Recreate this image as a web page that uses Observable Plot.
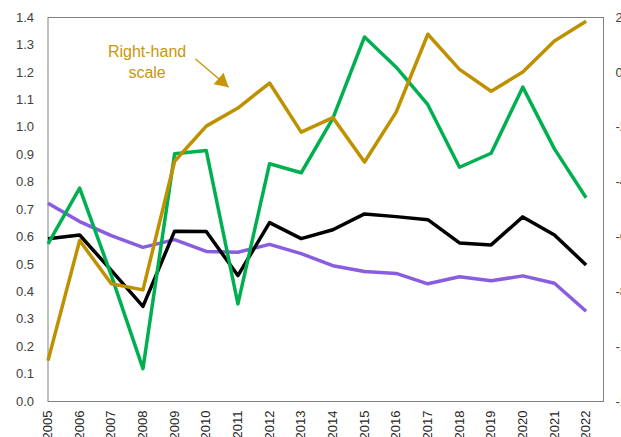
<!DOCTYPE html>
<html>
<head>
<meta charset="utf-8">
<script src="https://cdn.jsdelivr.net/npm/d3@7"></script>
<script src="https://cdn.jsdelivr.net/npm/@observablehq/plot@0.6"></script>
<style>
  html, body { margin: 0; padding: 0; background: #fff; overflow: hidden; }
  #chart svg { display: block; font-family: "Liberation Sans", Arial, sans-serif; }
</style>
</head>
<body>
<div id="chart"></div>
<script>
// Years on the category axis
const years = [2005, 2006, 2007, 2008, 2009, 2010, 2011, 2012, 2013, 2014,
               2015, 2016, 2017, 2018, 2019, 2020, 2021, 2022];

// Left-hand scale series
const purpleSeries = [0.723, 0.656, 0.605, 0.562, 0.590, 0.547, 0.544, 0.573, 0.539,
                      0.495, 0.474, 0.467, 0.429, 0.455, 0.440, 0.458, 0.431, 0.329];
const blackSeries  = [0.593, 0.607, 0.478, 0.347, 0.621, 0.620, 0.459, 0.652, 0.594,
                      0.626, 0.684, 0.674, 0.663, 0.578, 0.571, 0.673, 0.607, 0.498];
const greenSeries  = [0.575, 0.778, 0.460, 0.120, 0.903, 0.915, 0.356, 0.867, 0.834,
                      1.032, 1.329, 1.219, 1.082, 0.854, 0.905, 1.146, 0.921, 0.743];

// Right-hand scale series
const goldSeries   = [-10.51, -6.13, -7.71, -7.93, -3.24, -1.96, -1.30, -0.39, -2.18,
                      -1.65, -3.27, -1.45, 1.39, 0.11, -0.69, 0.01, 1.14, 1.86];

// Tick values of both value axes
const leftTicks  = [0, 0.1, 0.2, 0.3, 0.4, 0.5, 0.6, 0.7, 0.8, 0.9, 1.0, 1.1, 1.2, 1.3, 1.4];
const rightTicks = [-12, -10, -8, -6, -4, -2, 0, 2];

// Annotation pointing at the right-hand series
const noteText  = [{year: 2008.13, value: 1.243, text: "Right-hand\nscale"}];
const noteArrow = [{x1: 2009.66, y1: 1.249, x2: 2010.71, y2: 1.146}];

// The right-hand scale maps linearly onto the left one: -12 ↔ 0.0, 2 ↔ 1.4
const rightToLeft = (r) => (r + 12) / 10;
const leftToRight = (v) => Math.round(v * 10 - 12);

const COLORS = {purple: "#8a5ce0", black: "#000000", green: "#00b050", gold: "#bf9000"};

const rows = [];
const addSeries = (name, values, toLeft = (v) => v) =>
  values.forEach((v, i) => rows.push({series: name, year: years[i], value: toLeft(v)}));
addSeries("purple", purpleSeries);
addSeries("black", blackSeries);
addSeries("green", greenSeries);
addSeries("gold", goldSeries, rightToLeft);

const seriesOrder = ["purple", "black", "green", "gold"];

const chart = Plot.plot({
  width: 621,
  height: 437,
  marginLeft: 47.5,
  marginRight: 18,
  marginTop: 17,
  marginBottom: 36,
  style: {background: "#fff", fontFamily: "'Liberation Sans', Arial, sans-serif"},
  x: {type: "linear", domain: [2005, 2022.55]},
  y: {domain: [0, 1.4]},
  marks: [
    Plot.frame({stroke: "#808080", strokeWidth: 1}),
    Plot.axisY({
      ticks: leftTicks, tickFormat: d3.format(".1f"), tickSize: 0, tickPadding: 14,
      fontSize: 13, color: "#404040", label: null
    }),
    Plot.axisY({
      anchor: "right", ticks: rightTicks.map(rightToLeft), tickFormat: (v) => String(leftToRight(v)),
      tickSize: 0, tickPadding: 12, fontSize: 13, color: "#404040", label: null, textAnchor: "start"
    }),
    Plot.axisX({
      ticks: years, tickFormat: (d) => String(d), tickRotate: -90, tickSize: 0, tickPadding: 9,
      fontSize: 13, color: "#262626", label: null
    }),
    ...seriesOrder.map((name) =>
      Plot.line(rows.filter((d) => d.series === name), {
        x: "year", y: "value", stroke: COLORS[name], strokeWidth: 3.5,
        strokeLinejoin: "round", strokeLinecap: "butt"
      })
    ),
    Plot.text(noteText, {
      x: "year", y: "value", text: "text", fill: "#c8960c", fontSize: 16,
      lineHeight: 1.34, textAnchor: "middle", lineAnchor: "middle"
    }),
    Plot.link(noteArrow, {
      x1: "x1", y1: "y1", x2: "x2", y2: "y2", stroke: "#c8960c", strokeWidth: 1.4
    }),
    Plot.dot(noteArrow, {
      x: "x2", y: "y2", symbol: "triangle", r: 5.7, fill: "#c8960c", stroke: "none",
      rotate: 130.5, dx: -6.8, dy: -5.8
    })
  ]
});

document.getElementById("chart").appendChild(chart);
</script>
</body>
</html>
